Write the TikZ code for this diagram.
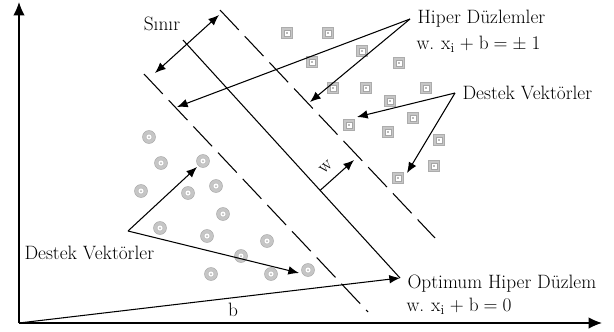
\documentclass[tikz,border=0pt]{standalone}
\usepackage{fontspec}
\usetikzlibrary{arrows.meta}
\tikzset{
  lbl/.style={font=\fontsize{16.5}{20}\selectfont, inner sep=0pt},
  eqn/.style={lbl, execute at begin node={\spaceskip=0.26em plus 0.1em}},
  axis/.style={line width=1pt, -{Latex[length=4mm,width=3.4mm]}},
  margin/.style={line width=0.9pt, dash pattern=on 0.82cm off 0.26cm},
  pointer/.style={line width=0.9pt, -{Latex[length=3.2mm,width=2.6mm]}},
  circout/.style={fill=gray!45, draw=gray!70, line width=0.4pt},
  sqout/.style={fill=gray!45, draw=gray!65, line width=0.4pt},
}
\begin{document}
\begin{tikzpicture}[x=0.03cm,y=-0.03cm,line width=0.9pt]
\useasboundingbox (0,0) rectangle (614,331);
% axes
\coordinate (origin) at (19,323);
\coordinate (ytop) at (19,2);
\coordinate (xend) at (602,323);
\draw[axis] (origin) -- (ytop);
\draw[axis] (origin) -- (xend);
% hyperplanes
\coordinate (opt1) at (183,40);
\coordinate (opt2) at (400,278);
\draw (opt1) -- (opt2);
\draw[margin] (220,10) -- (435,238);
\draw[margin] (144,74) -- (368,312);
% class 1: circles
\foreach \px/\py in {149/137,161/163,203/161,141/191,188/193,216/186,223/214,160/228,
                     207/236,267/241,241/256,211/274,271/274,308/270} {
  \filldraw[circout] (\px,\py) circle (1.95mm);
  \filldraw[fill=white, draw=gray!60, line width=0.3pt] (\px,\py) circle (0.9mm);
  \fill[gray!60] (\px,\py) circle (0.3mm);
}
% class 2: squares
\foreach \px/\py in {287/33,328/33,312/62,362/51,399/63,333/88,366/88,426/88,390/101,
                     413/118,349/125,388/132,439/140,434/166,398/178} {
  \filldraw[sqout] (\px-5.5,\py-5.5) rectangle (\px+5.5,\py+5.5);
  \filldraw[fill=white, draw=gray!70, line width=0.3pt] (\px-3,\py-3) rectangle (\px+3,\py+3);
  \fill[gray!55] (\px-1.2,\py-1.2) rectangle (\px+1.2,\py+1.2);
}
% labels
\node[lbl] (sinir) at (162,24) {Sınır};
\node[lbl, anchor=west, inner xsep=6pt] (hiper) at (410,19) {Hiper Düzlemler};
\node[eqn, anchor=west] (hiperEq) at (416,44) {w. x\textsubscript{i} + b = ± 1};
\node[lbl, anchor=west, inner xsep=6pt] (destekR) at (455,93) {Destek Vektörler};
\node[lbl, anchor=west] (destekL) at (24,253) {Destek Vektörler};
\node[lbl, anchor=west, inner xsep=6pt] (optimum) at (400,284) {Optimum Hiper Düzlem};
\node[eqn, anchor=west] (optimumEq) at (406,306) {w. x\textsubscript{i} + b = 0};
\node[lbl, rotate=42] (wlbl) at (326,167) {w};
\node[lbl] (blbl) at (233,310) {b};
% arrows
\draw[pointer, {Latex[length=3.2mm,width=2.6mm]}-{Latex[length=3.2mm,width=2.6mm]}] (155,73) -- (219,15);
\coordinate (wfoot) at (320,190.5);
\draw[pointer] (wfoot) -- (354,160);
\draw[pointer] (origin) -- (opt2);
\draw[pointer] (hiper.west) -- (177,107);
\draw[pointer] (hiper.west) -- (310,102);
\draw[pointer] (destekR.west) -- (357,117);
\draw[pointer] (destekR.west) -- (407,173);
\coordinate (svL) at (128,231);
\draw[pointer] (svL) -- (197,167);
\draw[pointer] (svL) -- (299,273);
\end{tikzpicture}
\end{document}
